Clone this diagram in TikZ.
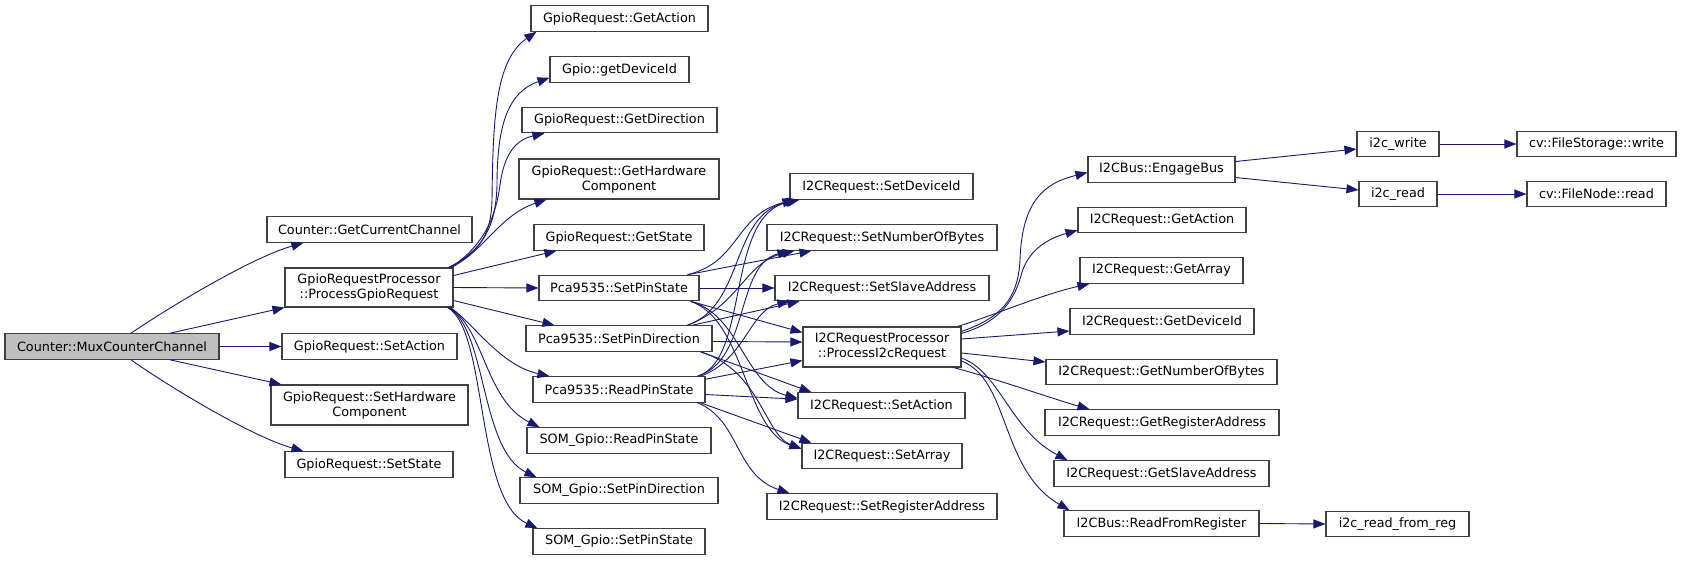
\documentclass[tikz,border=0pt]{standalone}
\usepackage{fontspec}
\setmainfont{DejaVu Sans}
\usetikzlibrary{arrows.meta,calc}
\definecolor{edgec}{HTML}{191970}
\definecolor{boxc}{HTML}{404040}
\definecolor{rootc}{HTML}{BFBFBF}
\tikzset{
  box/.style={draw=boxc, line width=1.1pt, fill=white, minimum height=25.5pt, inner sep=0pt, align=center, font=\fontsize{12.8}{15}\selectfont},
  tbox/.style={box, minimum height=40pt},
  edge/.style={draw=edgec, line width=0.9pt, -{Triangle[length=12pt,width=9pt]}, fill=none},
}
\begin{document}
\begin{tikzpicture}[x=1pt,y=-1pt]
\useasboundingbox[fill=white] (0,0) rectangle (1681,560);
% column 1
\node[box, fill=rootc, minimum width=214] (mux) at (112,346.5) {Counter::MuxCounterChannel};
% column 2
\node[box, minimum width=205] (gcc) at (369.5,229.5) {Counter::GetCurrentChannel};
\node[tbox, minimum width=168, minimum height=39] (pgr) at (369,287.5) {GpioRequestProcessor\\::ProcessGpioRequest};
\node[box, minimum width=175] (gsa) at (369.5,346.5) {GpioRequest::SetAction};
\node[tbox, minimum width=197] (gshc) at (369.5,405) {GpioRequest::SetHardware\\Component};
\node[box, minimum width=168] (gss) at (369,464.5) {GpioRequest::SetState};
% column 3
\node[box, minimum width=177] (gga) at (619.5,18.5) {GpioRequest::GetAction};
\node[box, minimum width=139] (gdid) at (619.5,69.5) {Gpio::getDeviceId};
\node[box, minimum width=195] (gdir) at (619.5,120) {GpioRequest::GetDirection};
\node[tbox, minimum width=200] (gghc) at (619,179) {GpioRequest::GetHardware\\Component};
\node[box, minimum width=170] (ggs) at (619,237.5) {GpioRequest::GetState};
\node[box, minimum width=160] (sps) at (619,288) {Pca9535::SetPinState};
\node[box, minimum width=186] (spd) at (619,338.5) {Pca9535::SetPinDirection};
\node[box, minimum width=172] (rps) at (619,389.5) {Pca9535::ReadPinState};
\node[box, minimum width=184] (somr) at (619,440.5) {SOM\_Gpio::ReadPinState};
\node[box, minimum width=198] (somd) at (619,490.5) {SOM\_Gpio::SetPinDirection};
\node[box, minimum width=172] (soms) at (619,541.5) {SOM\_Gpio::SetPinState};
% column 4
\node[box, minimum width=183] (isdid) at (881.5,186.5) {I2CRequest::SetDeviceId};
\node[box, minimum width=230] (isnob) at (882,237.5) {I2CRequest::SetNumberOfBytes};
\node[box, minimum width=214] (issa) at (882,288) {I2CRequest::SetSlaveAddress};
\node[tbox, minimum width=158] (pi2c) at (882,347) {I2CRequestProcessor\\::ProcessI2cRequest};
\node[box, minimum width=167] (isa) at (881.5,405.5) {I2CRequest::SetAction};
\node[box, minimum width=160] (isarr) at (882,456) {I2CRequest::SetArray};
\node[box, minimum width=230] (isra) at (882,506.5) {I2CRequest::SetRegisterAddress};
% column 5
\node[box, minimum width=147] (eb) at (1161.5,169.5) {I2CBus::EngageBus};
\node[box, minimum width=168] (iga) at (1162,220) {I2CRequest::GetAction};
\node[box, minimum width=163] (igarr) at (1161.5,270.5) {I2CRequest::GetArray};
\node[box, minimum width=184] (igdid) at (1162,321.5) {I2CRequest::GetDeviceId};
\node[box, minimum width=231] (ignob) at (1161.5,372) {I2CRequest::GetNumberOfBytes};
\node[box, minimum width=234] (igra) at (1162,422.5) {I2CRequest::GetRegisterAddress};
\node[box, minimum width=215] (igsa) at (1161.5,473.5) {I2CRequest::GetSlaveAddress};
\node[box, minimum width=195] (rfr) at (1161.5,523.5) {I2CBus::ReadFromRegister};
% column 6
\node[box, minimum width=82] (wr) at (1398,144) {i2c\_write};
\node[box, minimum width=78] (rd) at (1398,194) {i2c\_read};
\node[box, minimum width=143] (rfreg) at (1397.5,524) {i2c\_read\_from\_reg};
% column 7
\node[box, minimum width=159] (fsw) at (1596.5,144) {cv::FileStorage::write};
\node[box, minimum width=139] (fnr) at (1596.5,194) {cv::FileNode::read};

% edges from mux
\draw[edge] ($(mux.north)+(19,0)$) .. controls (165,310) and (250,258) .. ($(gcc.south west)+(37,0)$);
\draw[edge] ($(mux.north)+(58,0)$) -- (pgr.south west);
\draw[edge] (mux.east) -- (gsa.west);
\draw[edge] ($(mux.south)+(58,0)$) -- ($(gshc.north west)+(11,0)$);
\draw[edge] ($(mux.south)+(19,0)$) .. controls (165,384) and (250,436) .. ($(gss.north west)+(19,0)$);
% edges from pgr
\draw[edge] ($(pgr.north east)+(-5,0)$) .. controls (480,252) and (491,235) .. (492,200) .. controls (493,120) and (495,60) .. ($(gga.south west)+(6,0)$);
\draw[edge] ($(pgr.north east)+(-4,0)$) .. controls (482,250) and (496,228) .. (497,185) .. controls (497,125) and (508,92) .. ($(gdid.south west)+(0,-5)$);
\draw[edge] ($(pgr.north east)+(-3,0)$) .. controls (485,245) and (496,215) .. (500,185) .. controls (504,155) and (515,140) .. ($(gdir.south west)+(23,0)$);
\draw[edge] ($(pgr.north east)+(-2,0)$) .. controls (485,250) and (500,215) .. ($(gghc.south west)+(28,0)$);
\draw[edge] ($(pgr.east)+(0,-12)$) -- ($(ggs.south west)+(23,0)$);
\draw[edge] (pgr.east) -- (sps.west);
\draw[edge] ($(pgr.east)+(0,13)$) -- ($(spd.north west)+(29,0)$);
\draw[edge] ($(pgr.south east)+(-3,0)$) .. controls (475,325) and (500,365) .. ($(rps.north west)+(17,0)$);
\draw[edge] ($(pgr.south east)+(-4,0)$) .. controls (485,330) and (485,400) .. ($(somr.north west)+(13,0)$);
\draw[edge] ($(pgr.south east)+(-5,0)$) .. controls (487,330) and (480,450) .. ($(somd.north west)+(17,0)$);
\draw[edge] ($(pgr.south east)+(-6,0)$) .. controls (488,330) and (475,500) .. ($(soms.north west)+(5,0)$);
% edges from sps
\draw[edge] ($(sps.north east)+(-12,0)$) .. controls (740,262) and (735,215) .. ($(isdid.south west)+(5,0)$);
\draw[edge] ($(sps.north east)+(-12,0)$) -- ($(isnob.south west)+(45,0)$);
\draw[edge] (sps.east) -- (issa.west);
\draw[edge] ($(sps.south east)+(-9,0)$) -- ($(pi2c.north west)+(0,6)$);
\draw[edge] ($(sps.south east)+(-9,0)$) .. controls (740,315) and (745,385) .. ($(isa.north west)+(0,6)$);
\draw[edge] ($(sps.south east)+(-9,0)$) .. controls (745,320) and (745,430) .. ($(isarr.north west)+(0,6)$);
% edges from spd
\draw[edge] ($(spd.north east)+(-25,0)$) .. controls (745,305) and (730,215) .. ($(isdid.south west)+(8,0)$);
\draw[edge] ($(spd.north east)+(-25,0)$) .. controls (740,305) and (745,262) .. ($(isnob.south west)+(28,0)$);
\draw[edge] ($(spd.north east)+(-20,0)$) -- ($(issa.south west)+(25,0)$);
\draw[edge] ($(spd.east)+(0,3)$) -- ($(pi2c.west)+(0,-5)$);
\draw[edge] ($(spd.south east)+(-12,0)$) -- ($(isa.north west)+(14,0)$);
\draw[edge] ($(spd.south east)+(-12,0)$) .. controls (760,370) and (765,435) .. ($(isarr.north west)+(0,6)$);
% edges from rps
\draw[edge] ($(rps.north east)+(-8,0)$) .. controls (750,360) and (725,215) .. ($(isdid.south west)+(10,0)$);
\draw[edge] ($(rps.north east)+(-8,0)$) .. controls (750,360) and (735,265) .. ($(isnob.south west)+(23,0)$);
\draw[edge] ($(rps.north east)+(-5,0)$) .. controls (745,360) and (750,310) .. ($(issa.south west)+(15,0)$);
\draw[edge] ($(rps.north east)+(0,3)$) -- ($(pi2c.south west)+(0,-7)$);
\draw[edge] ($(rps.east)+(0,5)$) -- ($(isa.north west)+(0,7)$);
\draw[edge] ($(rps.south east)+(-5,0)$) -- ($(isarr.north west)+(10,0)$);
\draw[edge] ($(rps.south east)+(-8,0)$) .. controls (740,420) and (735,475) .. ($(isra.north west)+(23,0)$);
% edges from pi2c
\draw[edge] ($(pi2c.north east)+(0,5)$) .. controls (1000,318) and (1018,300) .. (1020,260) .. controls (1022,200) and (1045,183) .. ($(eb.west)+(0,3)$);
\draw[edge] ($(pi2c.north east)+(0,7)$) .. controls (1000,322) and (1015,300) .. (1022,272) .. controls (1030,248) and (1050,238) .. ($(iga.south west)+(0,-3)$);
\draw[edge] ($(pi2c.north east)+(-4,0)$) .. controls (995,315) and (1040,295) .. ($(igarr.south west)+(10,0)$);
\draw[edge] ($(pi2c.east)+(0,-8)$) -- ($(igdid.west)+(0,9.5)$);
\draw[edge] ($(pi2c.east)+(0,6)$) -- ($(ignob.west)+(0,-10)$);
\draw[edge] ($(pi2c.south east)+(-8,0)$) .. controls (1000,380) and (1050,398) .. ($(igra.north west)+(45,0)$);
\draw[edge] ($(pi2c.east)+(0,11)$) .. controls (1000,372) and (1010,430) .. ($(igsa.north west)+(14,0)$);
\draw[edge] ($(pi2c.east)+(0,14)$) .. controls (1010,380) and (1000,470) .. ($(rfr.north west)+(6,0)$);
% remaining
\draw[edge] ($(eb.east)+(0,-8)$) -- ($(wr.west)+(0,5)$);
\draw[edge] ($(eb.east)+(0,8)$) -- ($(rd.west)+(0,-4)$);
\draw[edge] (wr.east) -- (fsw.west);
\draw[edge] (rd.east) -- (fnr.west);
\draw[edge] (rfr.east) -- (rfreg.west);
\end{tikzpicture}
\end{document}
